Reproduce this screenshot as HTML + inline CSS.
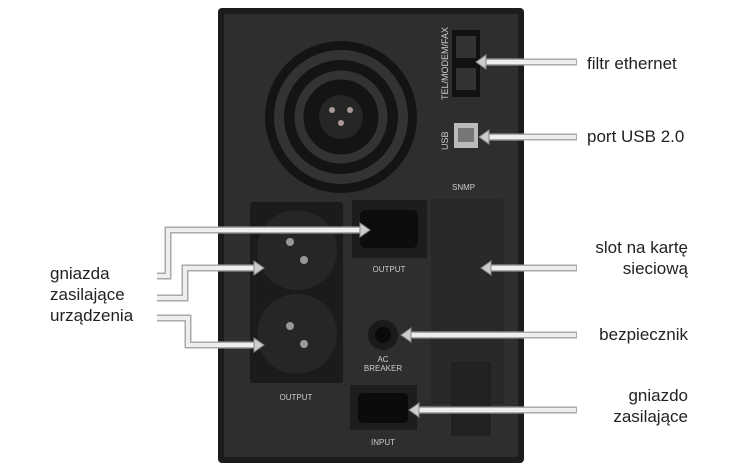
<!DOCTYPE html>
<html><head><meta charset="utf-8"><style>
body{margin:0;width:750px;height:473px;background:#fff;overflow:hidden;font-family:"Liberation Sans",sans-serif}
svg{position:absolute;left:0;top:0}
.t{position:absolute;font-size:17px;color:#222;line-height:21px}
</style></head><body>
<svg width="750" height="473">
<rect x="218" y="8" width="306" height="455" rx="4" fill="#1c1c1c"/>
<rect x="224" y="14" width="294" height="443" fill="#2e2e2e"/>
<circle cx="341" cy="117" r="76" fill="#141414"/>
<circle cx="341" cy="117" r="62" fill="none" stroke="#333" stroke-width="10"/>
<circle cx="341" cy="117" r="42" fill="none" stroke="#333" stroke-width="9"/>
<circle cx="341" cy="117" r="22" fill="#262626"/>
<circle cx="332" cy="110" r="3" fill="#a99"/><circle cx="350" cy="110" r="3" fill="#a99"/><circle cx="341" cy="123" r="3" fill="#a99"/>
<rect x="452" y="30" width="28" height="67" fill="#111"/>
<rect x="456" y="36" width="20" height="22" fill="#333"/><rect x="456" y="68" width="20" height="22" fill="#333"/>
<rect x="454" y="123" width="24" height="25" fill="#bbb"/><rect x="458" y="128" width="16" height="14" fill="#777"/>
<text x="448" y="100" transform="rotate(-90 448 100)" font-size="9" fill="#ccc" font-family="Liberation Sans">TEL/MODEM/FAX</text>
<text x="448" y="150" transform="rotate(-90 448 150)" font-size="9" fill="#ccc" font-family="Liberation Sans">USB</text>
<text x="452" y="190" font-size="8" fill="#ccc" font-family="Liberation Sans">SNMP</text>
<rect x="250" y="202" width="93" height="181" rx="3" fill="#1b1b1b"/>
<circle cx="297" cy="250" r="40" fill="#262626"/><circle cx="297" cy="334" r="40" fill="#262626"/>
<circle cx="290" cy="242" r="4" fill="#999"/><circle cx="304" cy="260" r="4" fill="#999"/><circle cx="290" cy="326" r="4" fill="#999"/><circle cx="304" cy="344" r="4" fill="#999"/>
<rect x="352" y="200" width="75" height="58" fill="#1d1d1d"/><rect x="360" y="210" width="58" height="38" rx="6" fill="#0d0d0d"/>
<text x="389" y="272" font-size="8" fill="#ccc" text-anchor="middle" font-family="Liberation Sans">OUTPUT</text>
<rect x="432" y="200" width="71" height="203" fill="#292929" stroke="#222"/>
<rect x="452" y="363" width="38" height="72" fill="#222" stroke="#1a1a1a"/>
<circle cx="383" cy="335" r="15" fill="#1a1a1a"/><circle cx="383" cy="335" r="8" fill="#0a0a0a"/>
<text x="383" y="362" font-size="8" fill="#ccc" text-anchor="middle" font-family="Liberation Sans">AC</text>
<text x="383" y="371" font-size="8" fill="#ccc" text-anchor="middle" font-family="Liberation Sans">BREAKER</text>
<rect x="350" y="385" width="67" height="45" fill="#1d1d1d"/><rect x="358" y="393" width="50" height="30" rx="5" fill="#0b0b0b"/>
<text x="383" y="445" font-size="8" fill="#ccc" text-anchor="middle" font-family="Liberation Sans">INPUT</text>
<text x="296" y="400" font-size="8" fill="#ccc" text-anchor="middle" font-family="Liberation Sans">OUTPUT</text>
<g fill="none" stroke-linejoin="miter">
<g stroke="#aaa" stroke-width="7">
<path d="M482 62H577M485 137H577M487 268H577M407 335H577M415 410H577"/>
<path d="M157 276H168V230H362M157 298H185V268H256M157 318H188V345H256"/>
</g>
<g stroke="#eee" stroke-width="4">
<path d="M482 62H576M485 137H576M487 268H576M407 335H576M415 410H576"/>
<path d="M157 276H168V230H362M157 298H185V268H256M157 318H188V345H256"/>
</g>
</g>
<g fill="#ccc" stroke="#888" stroke-width="1">
<path d="M476 62l10-7v14z"/><path d="M479 137l10-7v14z"/><path d="M481 268l10-7v14z"/><path d="M401 335l10-7v14z"/><path d="M409 410l10-7v14z"/>
<path d="M370 230l-10-7v14z"/><path d="M264 268l-10-7v14z"/><path d="M264 345l-10-7v14z"/>
</g>
</svg>
<div class="t" style="left:587px;top:53px">filtr ethernet</div>
<div class="t" style="left:587px;top:126px">port USB 2.0</div>
<div class="t" style="left:560px;top:237px;width:128px;text-align:right">slot na kartę<br>sieciową</div>
<div class="t" style="left:560px;top:324px;width:128px;text-align:right">bezpiecznik</div>
<div class="t" style="left:560px;top:385px;width:128px;text-align:right">gniazdo<br>zasilające</div>
<div class="t" style="left:50px;top:263px">gniazda<br>zasilające<br>urządzenia</div>
</body></html>
